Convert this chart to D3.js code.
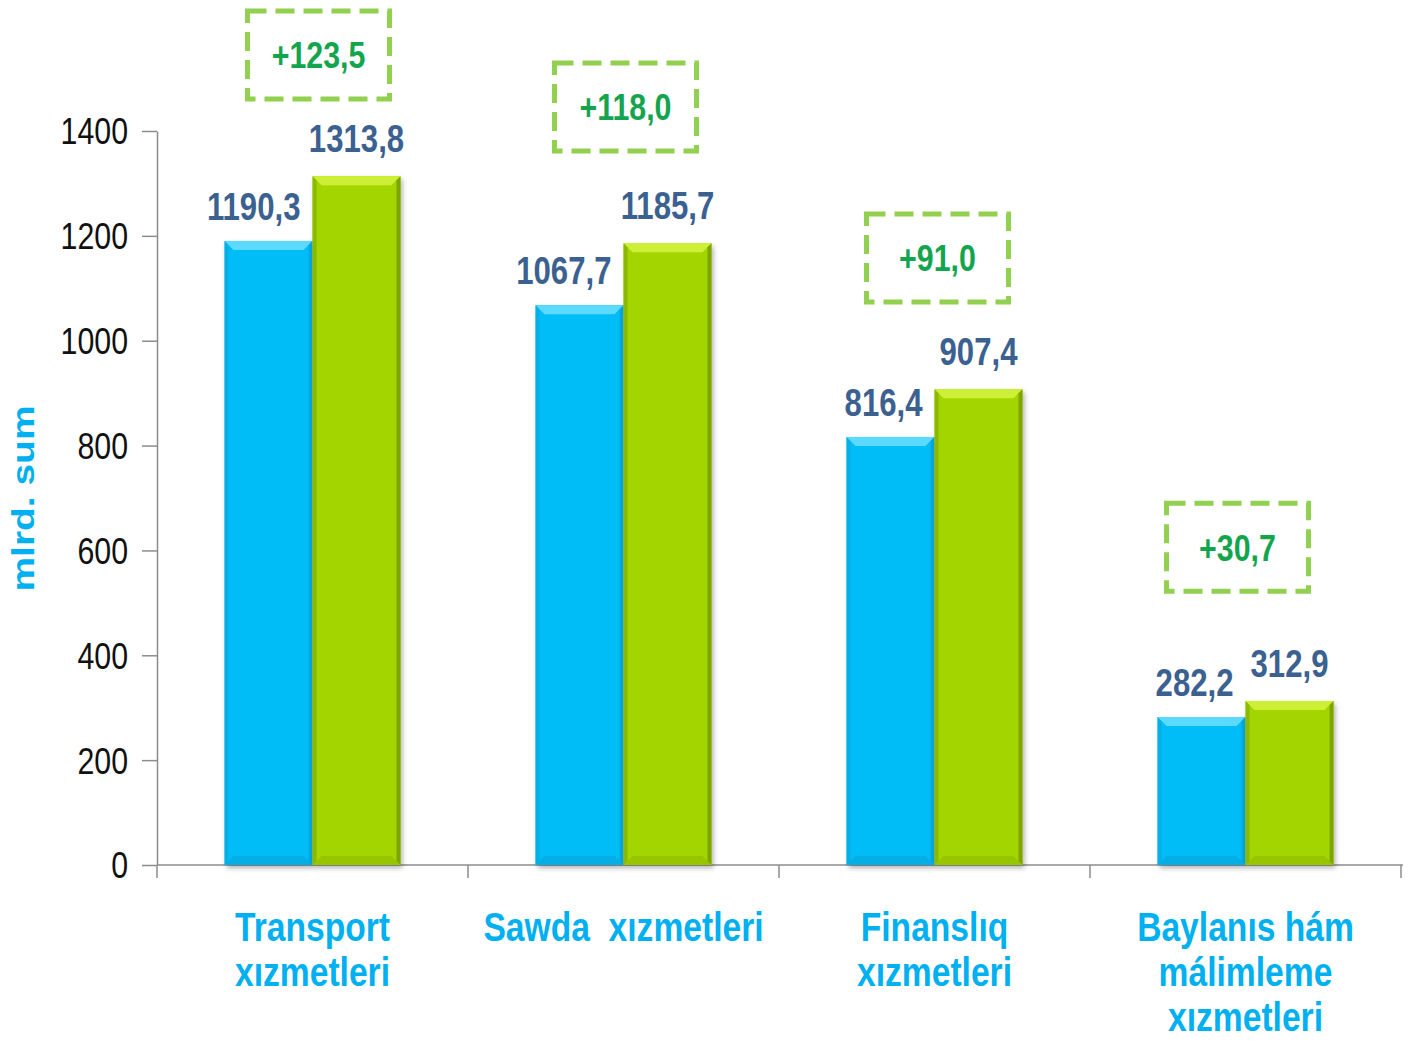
<!DOCTYPE html>
<html>
<head>
<meta charset="utf-8">
<script src="https://cdn.jsdelivr.net/npm/d3@7"></script>
<style>
  body { margin: 0; background: #fff; }
  svg text { font-family: "Liberation Sans", Arial, sans-serif; }
</style>
</head>
<body>
<div id="chart"></div>
<script>
var categories = ["Transport xızmetleri", "Sawda  xızmetleri", "Finanslıq xızmetleri", "Baylanıs hám málimleme xızmetleri"];
var categoryLines = [["Transport", "xızmetleri"], ["Sawda  xızmetleri"], ["Finanslıq", "xızmetleri"], ["Baylanıs hám", "málimleme", "xızmetleri"]];
var seriesNames = ["before", "after"];
var valuesBefore = [1190.3, 1067.7, 816.4, 282.2];
var valuesAfter = [1313.8, 1185.7, 907.4, 312.9];
var growthLabels = ["+123,5", "+118,0", "+91,0", "+30,7"];
var yTicks = [0, 200, 400, 600, 800, 1000, 1200, 1400];

var squeeze = 0.82; // the original uses a narrow face

function fmt(v) { return v.toFixed(1).replace(".", ","); }

function init() {
    var w = 1411, h = 1041;
    var left = 157, right = 1401, top = 131, bottom = 865;

    var svg = d3.select("#chart").append("svg")
        .attr("width", w)
        .attr("height", h);

    var defs = svg.append("defs");
    var f = defs.append("filter").attr("id", "shadow")
        .attr("x", "-10%").attr("y", "-10%").attr("width", "130%").attr("height", "130%");
    f.append("feDropShadow").attr("dx", 2).attr("dy", 3).attr("stdDeviation", 2.5)
        .attr("flood-color", "#000").attr("flood-opacity", 0.3);

    var x = d3.scaleBand().domain(categories).range([left, right]).paddingInner(0).paddingOuter(0);
    var groupW = 176;
    var xs = d3.scaleBand().domain(seriesNames).range([0, groupW]);
    var y = d3.scaleLinear().domain([0, 1400]).range([bottom, top]);

    // y axis
    var yAxis = d3.axisLeft(y).tickValues(yTicks).tickSize(15).tickSizeOuter(0).tickPadding(14)
        .tickFormat(function (d) { return d; });
    var gy = svg.append("g").attr("transform", "translate(" + left + ",0)").call(yAxis);
    gy.select(".domain").attr("stroke", "#8c8c8c").attr("stroke-width", 1.5);
    gy.selectAll(".tick line").attr("stroke", "#8c8c8c").attr("stroke-width", 1.5);
    gy.selectAll(".tick text").attr("font-size", 37).attr("fill", "#111")
        .style("font-family", "'Liberation Sans', Arial, sans-serif")
        .attr("x", -29 / squeeze)
        .attr("transform", "scale(" + squeeze + ",1)")
        .attr("dy", "0.35em");

    // x axis
    var boundaries = categories.map(function (c) { return x(c); }).concat([right]);
    svg.append("line").attr("x1", left).attr("x2", right + 2).attr("y1", bottom).attr("y2", bottom)
        .attr("stroke", "#8c8c8c").attr("stroke-width", 1.5);
    svg.selectAll("xticks").data(boundaries).enter().append("line")
        .attr("x1", function (d) { return d; }).attr("x2", function (d) { return d; })
        .attr("y1", bottom).attr("y2", bottom + 13)
        .attr("stroke", "#8c8c8c").attr("stroke-width", 1.5);

    // y title
    svg.append("text")
        .attr("transform", "translate(34," + ((405 + 592) / 2) + ") rotate(-90)")
        .attr("text-anchor", "middle")
        .attr("font-size", 32).attr("font-weight", "bold").attr("fill", "#00b0f0")
        .attr("textLength", 186).attr("lengthAdjust", "spacingAndGlyphs")
        .text("mlrd. sum");

    var colors = {
        before: { base: "#02bdf7", top: "#5cd9ff", bottom: "#0aa4da", side: "#0aa6dc" },
        after: { base: "#a3d602", top: "#cdef35", bottom: "#8fbb00", side: "#7da400" }
    };

    var data = [];
    categories.forEach(function (c, i) {
        data.push({ cat: c, s: "before", v: valuesBefore[i] });
        data.push({ cat: c, s: "after", v: valuesAfter[i] });
    });

    var off = (x.bandwidth() - groupW) / 2;
    var bars = svg.selectAll("g.bar").data(data).enter().append("g").attr("class", "bar")
        .attr("transform", function (d) {
            return "translate(" + (x(d.cat) + off + xs(d.s)) + "," + y(d.v) + ")";
        });

    var bw = xs.bandwidth(), e = 9, s = 4;
    bars.append("rect").attr("width", bw)
        .attr("height", function (d) { return y(0) - y(d.v); })
        .attr("fill", function (d) { return colors[d.s].base; })
        .attr("filter", "url(#shadow)");
    // top bevel
    bars.append("path").attr("d", "M0,0 L" + bw + ",0 L" + (bw - e) + "," + e + " L" + e + "," + e + " Z")
        .attr("fill", function (d) { return colors[d.s].top; });
    // bottom bevel
    bars.append("path").attr("d", function (d) {
        var hh = y(0) - y(d.v);
        return "M0," + hh + " L" + bw + "," + hh + " L" + (bw - e) + "," + (hh - e) + " L" + e + "," + (hh - e) + " Z";
    }).attr("fill", function (d) { return colors[d.s].bottom; }).attr("opacity", 0.6);
    // side bevels
    bars.append("path").attr("d", function (d) {
        var hh = y(0) - y(d.v);
        return "M0,0 L" + s + "," + s + " L" + s + "," + (hh - s) + " L0," + hh + " Z";
    }).attr("fill", function (d) { return colors[d.s].side; }).attr("opacity", 0.6);
    bars.append("path").attr("d", function (d) {
        var hh = y(0) - y(d.v);
        return "M" + bw + ",0 L" + (bw - s) + "," + s + " L" + (bw - s) + "," + (hh - s) + " L" + bw + "," + hh + " Z";
    }).attr("fill", function (d) { return colors[d.s].side; });

    // value labels: blue ones sit toward the right edge of their bar
    svg.selectAll("text.val").data(data).enter().append("text").attr("class", "val")
        .attr("transform", function (d) {
            var bx = x(d.cat) + off + xs(d.s);
            var tx = d.s === "before" ? bx + bw - 12 : bx + bw / 2;
            var ty = y(d.v) - (d.s === "before" ? 21 : 24);
            return "translate(" + tx + "," + ty + ") scale(" + squeeze + ",1)";
        })
        .attr("text-anchor", function (d) { return d.s === "before" ? "end" : "middle"; })
        .attr("font-size", 38).attr("font-weight", "bold").attr("fill", "#3b6190")
        .text(function (d) { return fmt(d.v); });

    // growth boxes (centre level in data units)
    var boxLevel = [1545, 1446, 1158, 606];
    var boxShift = [6, 2, 3, -8];
    var boxW = 142, boxH = 88;
    var boxes = svg.selectAll("g.box").data(growthLabels).enter().append("g").attr("class", "box")
        .attr("transform", function (d, i) {
            return "translate(" + (x(categories[i]) + x.bandwidth() / 2 + boxShift[i]) + "," + y(boxLevel[i]) + ")";
        });
    boxes.append("rect").attr("x", -boxW / 2).attr("y", -boxH / 2).attr("width", boxW).attr("height", boxH)
        .attr("fill", "none").attr("stroke", "#92d050").attr("stroke-width", 5)
        .attr("stroke-dasharray", "19,9");
    boxes.append("text").attr("text-anchor", "middle").attr("dy", "0.36em")
        .attr("transform", "scale(" + squeeze + ",1)")
        .attr("font-size", 37).attr("font-weight", "bold").attr("fill", "#12a54e")
        .text(function (d) { return d; });

    // category labels
    var lines = [];
    categories.forEach(function (c, i) {
        categoryLines[i].forEach(function (t, j) { lines.push({ c: c, t: t, j: j }); });
    });
    svg.selectAll("text.cat").data(lines).enter().append("text").attr("class", "cat")
        .attr("transform", function (d) {
            return "translate(" + (x(d.c) + x.bandwidth() / 2) + "," + (941 + d.j * 45) + ") scale(" + squeeze + ",1)";
        })
        .attr("text-anchor", "middle")
        .attr("font-size", 41).attr("font-weight", "bold").attr("fill", "#00b0f0")
        .style("white-space", "pre")
        .text(function (d) { return d.t; });
}

window.onload = init;
</script>
</body>
</html>
